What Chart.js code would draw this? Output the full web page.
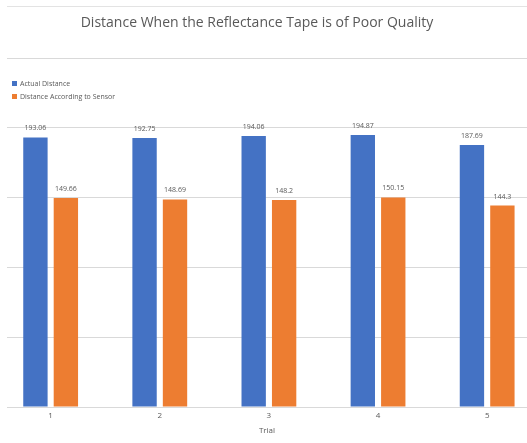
<!DOCTYPE html>
<html>
<head>
<meta charset="utf-8">
<script src="https://cdn.jsdelivr.net/npm/chart.js@4.4.1/dist/chart.umd.min.js"></script>
<style>
  html, body { margin: 0; padding: 0; background: #ffffff; overflow: hidden; }
  #wrap { position: relative; width: 527px; height: 443px; }
  #chart { position: absolute; left: 0; top: 0; }
  #title { position: absolute; left: 0; width: 514px; top: 12px; text-align: center;
           font-family: "Open Sans", sans-serif; font-size: 14px; color: #595959; line-height: 20px; white-space: nowrap; }
  #legend { position: absolute; left: 12px; top: 77px; font-family: "Open Sans", sans-serif; font-size: 7px; color: #595959; }
  #legend .item { height: 13px; line-height: 13px; white-space: nowrap; }
  #legend .box { display: inline-block; width: 5px; height: 5px; margin-right: 3px; vertical-align: middle; position: relative; top: -1px; }
</style>
</head>
<body>
<div id="wrap">
  <canvas id="chart" width="527" height="443"></canvas>
  <div id="title"></div>
  <div id="legend"></div>
</div>
<script>
const chartTitle = "Distance When the Reflectance Tape is of Poor Quality";
const xAxisTitle = "Trial";
const trials = ["1", "2", "3", "4", "5"];
const seriesNames = ["Actual Distance", "Distance According to Sensor"];
const actualDistance = [193.06, 192.75, 194.06, 194.87, 187.69];
const sensorDistance = [149.66, 148.69, 148.2, 150.15, 144.3];
const seriesColors = ["#4472C4", "#ED7D31"];
const yTicks = [0, 50, 100, 150, 200, 250];

const textColor = "#595959";
const fontFamily = "'Open Sans', sans-serif";

const valueLabels = {
  id: "valueLabels",
  afterDatasetsDraw(chart) {
    const ctx = chart.ctx;
    ctx.save();
    ctx.font = "7px " + fontFamily;
    ctx.fillStyle = textColor;
    ctx.textAlign = "center";
    ctx.textBaseline = "middle";
    chart.data.datasets.forEach((ds, di) => {
      const meta = chart.getDatasetMeta(di);
      meta.data.forEach((el, i) => {
        ctx.fillText(String(ds.data[i]), el.x, el.y - 9);
      });
    });
    ctx.restore();
  }
};

const frameLine = {
  id: "frameLine",
  beforeDraw(chart) {
    const ctx = chart.ctx;
    ctx.save();
    ctx.strokeStyle = "#e3e3e3";
    ctx.lineWidth = 1;
    ctx.beginPath();
    ctx.moveTo(7, 6.5);
    ctx.lineTo(chart.width, 6.5);
    ctx.stroke();
    ctx.restore();
  }
};

const chart = new Chart(document.getElementById("chart"), {
  type: "bar",
  data: {
    labels: trials,
    datasets: [
      { label: seriesNames[0], data: actualDistance, backgroundColor: seriesColors[0] },
      { label: seriesNames[1], data: sensorDistance, backgroundColor: seriesColors[1] }
    ]
  },
  options: {
    responsive: false,
    animation: false,
    devicePixelRatio: 1,
    categoryPercentage: 0.558,
    barPercentage: 0.8,
    layout: { autoPadding: false, padding: { top: 58, left: 7, right: 0, bottom: 0 } },
    plugins: {
      legend: { display: false },
      title: { display: false },
      tooltip: { enabled: false }
    },
    scales: {
      x: {
        type: "linear",
        offset: false,
        min: 0.6,
        max: 5.365,
        grid: { display: false, drawTicks: false },
        border: { display: false },
        ticks: {
          stepSize: 1,
          includeBounds: false,
          padding: 4,
          color: textColor,
          font: { family: fontFamily, size: 8 },
          callback: (v) => trials[v - 1]
        },
        title: {
          display: true,
          text: xAxisTitle,
          color: textColor,
          font: { family: fontFamily, size: 8 },
          padding: { top: 1.6, bottom: 7.2 }
        }
      },
      y: {
        min: yTicks[0],
        max: yTicks[yTicks.length - 1],
        afterBuildTicks: (scale) => { scale.ticks = yTicks.map(v => ({ value: v })); },
        grid: { color: "#d9d9d9", lineWidth: 1, drawTicks: false },
        border: { display: false },
        ticks: { display: false }
      }
    }
  },
  plugins: [valueLabels, frameLine]
});

document.getElementById("title").textContent = chartTitle;
const legendEl = document.getElementById("legend");
chart.data.datasets.forEach((ds) => {
  const item = document.createElement("div");
  item.className = "item";
  const box = document.createElement("span");
  box.className = "box";
  box.style.background = ds.backgroundColor;
  item.appendChild(box);
  item.appendChild(document.createTextNode(ds.label));
  legendEl.appendChild(item);
});
</script>
</body>
</html>
